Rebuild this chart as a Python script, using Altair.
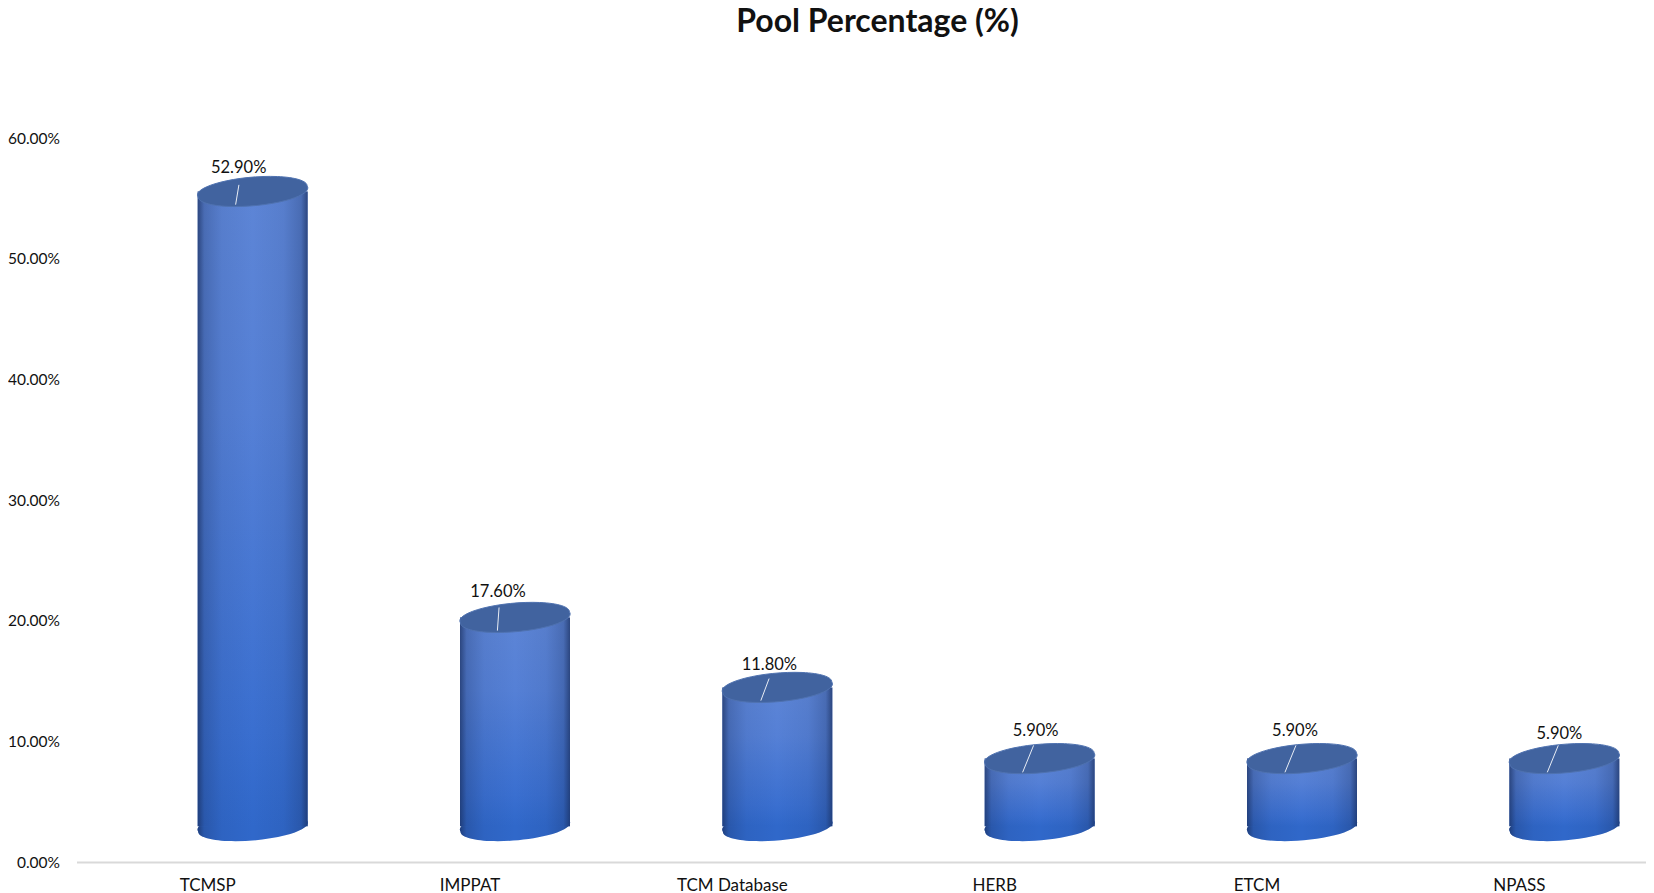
import altair as alt
import pandas as pd

categories = ["TCMSP", "IMPPAT", "TCM Database", "HERB", "ETCM", "NPASS"]
pool_share = [0.529, 0.176, 0.118, 0.059, 0.059, 0.059]
y_ticks = [0, 0.1, 0.2, 0.3, 0.4, 0.5, 0.6]

FONT = "Lato"
FLOOR = 0.0297    # the 3D floor sits above the axis line
LIFT = 0.0267     # lift of each lid above its value
SHIFT = 45        # cylinders stand to the right of their tick label
BAR_W = 110

df = pd.DataFrame({"db": categories, "share": pool_share})
df["base"] = FLOOR
df["top"] = df["share"] + LIFT
df["label"] = (df["share"] * 100).map(lambda v: f"{v:.2f}%")

x = alt.X("db:N", sort=categories, title=None,
          scale=alt.Scale(paddingInner=0, paddingOuter=0),
          axis=alt.Axis(labelAngle=0, ticks=False, labelPadding=15, labelFontSize=17,
                        labelFont=FONT, labelColor="#111111", domainColor="#d9d9d9",
                        domainWidth=2, grid=False))
y_scale = alt.Scale(domain=[0, 0.6], nice=False, clamp=False)
y_axis = alt.Axis(values=y_ticks, format=".2%", domain=False, ticks=False, grid=False,
                  labelPadding=17, labelFontSize=15.5, labelFont=FONT, labelColor="#111111")

ELLIPSE = "M -0.99 0.1 A 1 0.24 -5 1 1 0.99 -0.1 A 1 0.24 -5 1 1 -0.99 0.1 Z"

side_v = alt.Gradient(gradient="linear", x1=0, y1=0, x2=0, y2=1, stops=[
    alt.GradientStop(color="#5d85d6", offset=0),
    alt.GradientStop(color="#5580d6", offset=0.35),
    alt.GradientStop(color="#3a6fd0", offset=0.85),
    alt.GradientStop(color="#3068ca", offset=1)])
side_h = alt.Gradient(gradient="linear", x1=0, y1=0, x2=1, y2=0, stops=[
    alt.GradientStop(color="rgba(24,44,90,0.7)", offset=0),
    alt.GradientStop(color="rgba(24,44,90,0.28)", offset=0.06),
    alt.GradientStop(color="rgba(24,44,90,0.08)", offset=0.22),
    alt.GradientStop(color="rgba(24,44,90,0)", offset=0.5),
    alt.GradientStop(color="rgba(24,44,90,0.08)", offset=0.78),
    alt.GradientStop(color="rgba(24,44,90,0.28)", offset=0.94),
    alt.GradientStop(color="rgba(24,44,90,0.7)", offset=1)])

base = alt.Chart(df)
y_base = alt.Y("base:Q", scale=y_scale, axis=y_axis, title=None)
y_top = alt.Y("top:Q", scale=y_scale, axis=y_axis, title=None)

foot_fill = base.mark_point(shape=ELLIPSE, filled=True, fill="#3068ca", size=BAR_W**2,
                            opacity=1, xOffset=SHIFT, strokeWidth=0).encode(x=x, y=y_base)
foot_shade = base.mark_point(shape=ELLIPSE, filled=True, fill=side_h, size=BAR_W**2,
                             opacity=1, xOffset=SHIFT, strokeWidth=0).encode(x=x, y=y_base)
body = base.mark_bar(fill=side_v, size=BAR_W, xOffset=SHIFT).encode(x=x, y=y_top, y2="base:Q")
shade = base.mark_bar(fill=side_h, size=BAR_W, xOffset=SHIFT).encode(x=x, y=y_top, y2="base:Q")
lid = base.mark_point(shape=ELLIPSE, filled=True, fill="#41639f", size=BAR_W**2,
                      opacity=1, xOffset=SHIFT, stroke="#4f72b0", strokeWidth=1).encode(x=x, y=y_top)

# value-label placement and leader strokes, relative to each lid
label_dx = [-14, -17, -8, -4, -7, -5]
label_dy = [-23, -25, -22, -28, -28, -25]
leaders = [
    "M -0.25 -0.12 L -0.31 0.24",
    "M -0.29 -0.18 L -0.32 0.24",
    "M -0.15 -0.16 L -0.3 0.24",
    "M -0.11 -0.24 L -0.31 0.25",
    "M -0.11 -0.24 L -0.31 0.25",
    "M -0.11 -0.24 L -0.31 0.25",
]

extras = []
for cat, dx, dy, path in zip(categories, label_dx, label_dy, leaders):
    row = base.transform_filter(alt.datum.db == cat)
    extras.append(row.mark_point(shape=path, filled=False, stroke="#e8edf5", strokeWidth=1,
                                 size=BAR_W**2, opacity=1, xOffset=SHIFT).encode(x=x, y=y_top))
    extras.append(row.mark_text(font=FONT, fontSize=16.5, color="#111111", align="center",
                                baseline="middle", xOffset=SHIFT + dx, yOffset=dy).encode(
        x=x, y=y_top, text="label:N"))

chart = alt.layer(foot_fill, foot_shade, body, shade, lid, *extras).properties(
    width=1574, height=724,
    title=alt.TitleParams("Pool Percentage (%)", font=FONT, fontSize=32, fontWeight="bold",
                          color="#111111", anchor="middle", dx=14, offset=92),
    padding={"left": 68.5, "top": 130, "right": -4.5, "bottom": 45},
    autosize=alt.AutoSizeParams(type="none"),
).configure_view(stroke=None)

chart.save("out.html", embed_options={"renderer": "svg", "actions": False})
